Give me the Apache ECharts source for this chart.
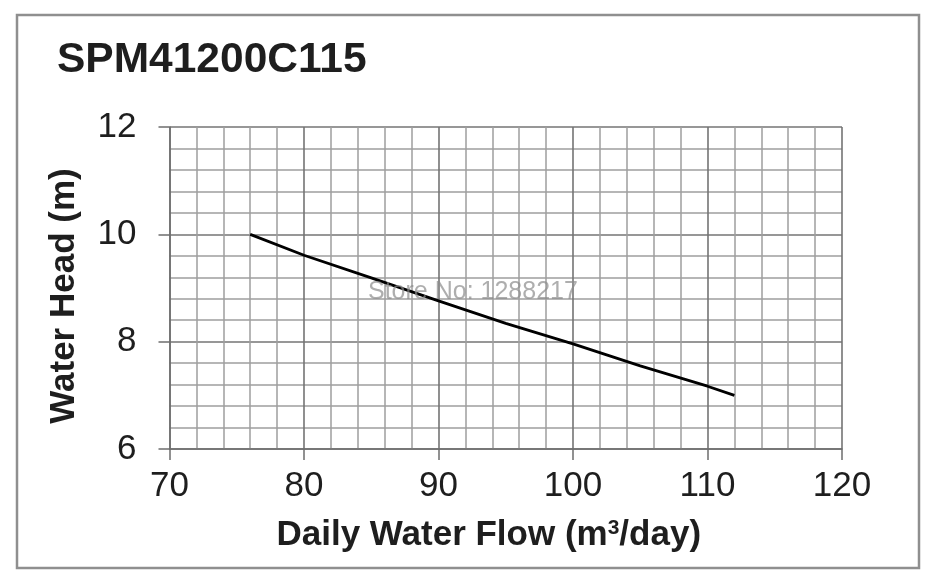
<!DOCTYPE html>
<html>
<head>
<meta charset="utf-8">
<script src="https://cdn.jsdelivr.net/npm/echarts@6/dist/echarts.min.js"></script>
<style>
  html, body { margin: 0; padding: 0; background: #fff; }
  #chart { width: 943px; height: 585px; }
</style>
</head>
<body>
<div id="chart"></div>
<script>
// pump curve
const flow = [76, 80, 85, 90, 95, 100, 105, 110, 112];
const head = [10.0, 9.61, 9.19, 8.76, 8.34, 7.96, 7.55, 7.17, 7.0];

const xTicks = [70, 80, 90, 100, 110, 120];
const yTicks = [6, 8, 10, 12];

const titleText = 'SPM41200C115';
const xName = 'Daily Water Flow (m{sup|3}/day)';
const yName = 'Water Head (m)';
const watermark = 'Store No: 1288217';

const textColor = '#1e1e1e';
const tickFont = "'Liberation Sans Narrow', 'Arial Narrow', 'Liberation Sans', Arial, sans-serif";
const boldFont = "'Liberation Sans', Arial, sans-serif";

const chart = echarts.init(document.getElementById('chart'));

chart.setOption({
  backgroundColor: '#fff',
  animation: false,
  title: {
    text: titleText,
    left: 52,
    top: 34,
    textStyle: {
      fontFamily: boldFont,
      fontWeight: 'bold',
      fontSize: 42.5,
      color: textColor
    }
  },
  graphic: [
    {
      type: 'rect',
      shape: { x: 17, y: 15, width: 902, height: 553 },
      style: { fill: 'none', stroke: '#8f8f8f', lineWidth: 2.5 },
      z: 100
    },
    {
      type: 'text',
      left: 368,
      top: 280,
      style: {
        text: watermark,
        fontFamily: boldFont,
        fontSize: 25,
        fill: 'rgba(140,140,140,0.7)'
      },
      z: 100
    }
  ],
  grid: {
    left: 169.5,
    right: 943 - 842,
    top: 127,
    bottom: 585 - 449
  },
  xAxis: {
    type: 'value',
    min: xTicks[0],
    max: xTicks[xTicks.length - 1],
    interval: 10,
    name: xName,
    nameLocation: 'middle',
    nameGap: 69,
    nameTextStyle: {
      fontFamily: boldFont,
      fontWeight: 'bold',
      fontSize: 35,
      color: textColor,
      padding: [0, 34, 0, 0],
      rich: {
        sup: {
          fontFamily: boldFont,
          fontWeight: 'bold',
          fontSize: 21,
          color: textColor,
          verticalAlign: 'top',
          padding: [0, 0, 14, 0]
        }
      }
    },
    axisLine: { show: true, lineStyle: { color: '#6e6e6e', width: 1.5 } },
    axisTick: { show: true, length: 11, lineStyle: { color: '#6e6e6e', width: 1.5 } },
    axisLabel: {
      margin: 20,
      fontFamily: tickFont,
      fontSize: 35,
      color: textColor
    },
    splitLine: { show: true, lineStyle: { color: '#747474', width: 1.6 } },
    minorTick: { show: false, splitNumber: 5 },
    minorSplitLine: { show: true, lineStyle: { color: '#9e9e9e', width: 1.5 } }
  },
  yAxis: {
    type: 'value',
    min: yTicks[0],
    max: yTicks[yTicks.length - 1],
    interval: 2,
    name: yName,
    nameLocation: 'middle',
    nameRotate: 90,
    nameGap: 88,
    nameTextStyle: {
      fontFamily: boldFont,
      fontWeight: 'bold',
      fontSize: 35,
      color: textColor,
      padding: [0, 16, 0, 0]
    },
    axisLine: { show: true, lineStyle: { color: '#6e6e6e', width: 1.5 } },
    axisTick: { show: true, length: 11, lineStyle: { color: '#6e6e6e', width: 1.5 } },
    axisLabel: {
      margin: 33,
      fontFamily: tickFont,
      fontSize: 35,
      color: textColor
    },
    splitLine: { show: true, lineStyle: { color: '#747474', width: 1.6 } },
    minorTick: { show: false, splitNumber: 5 },
    minorSplitLine: { show: true, lineStyle: { color: '#9e9e9e', width: 1.5 } }
  },
  series: [{
    type: 'line',
    data: flow.map((f, i) => [f, head[i]]),
    showSymbol: false,
    symbol: 'none',
    lineStyle: { color: '#000', width: 2.8 },
    z: 5
  }]
});
</script>
</body>
</html>
